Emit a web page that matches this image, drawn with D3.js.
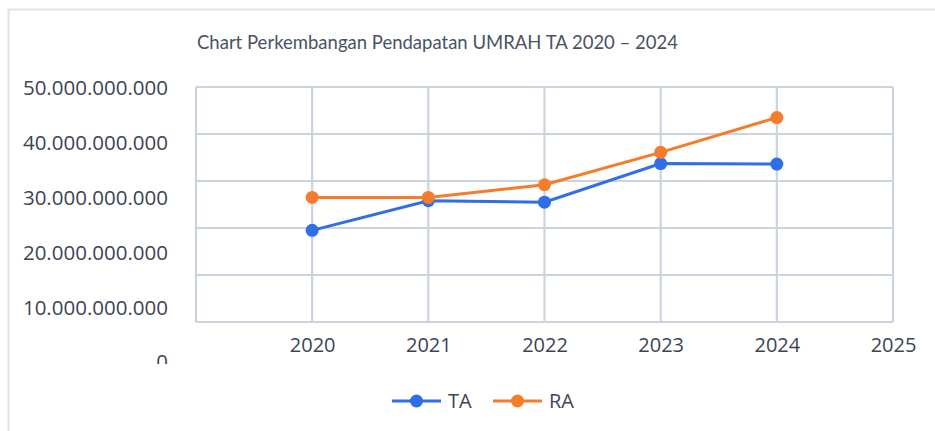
<!DOCTYPE html>
<html><head><meta charset="utf-8">
<script src="https://cdn.jsdelivr.net/npm/d3@7"></script>
<style>body{margin:0;background:#fff}svg{display:block}</style>
</head><body>
<svg id="c" width="935" height="431"></svg>
<script>
const title = "Chart Perkembangan Pendapatan UMRAH TA 2020 \u2013 2024";
const years = [2020, 2021, 2022, 2023, 2024];
const xTicks = [2020, 2021, 2022, 2023, 2024, 2025];
const yTicks = [0, 10e9, 20e9, 30e9, 40e9, 50e9];
const taValues = [19.5e9, 25.8e9, 25.5e9, 33.7e9, 33.6e9];
const raValues = [26.5e9, 26.5e9, 29.2e9, 36.1e9, 43.5e9];
const seriesNames = ["TA", "RA"];
const colors = ["#2f6ee4", "#f47d2c"];

const svg = d3.select("#c");
const txt = "#3d4454", grid = "#cbd3df";

// frame
svg.append("path").attr("d", "M8.5,431V9.5H935").attr("fill", "none").attr("stroke", "#dde3ee").attr("stroke-width", 2);

svg.append("text").attr("x", 197).attr("y", 49).text(title)
  .attr("font-family", "Lato, 'Open Sans', sans-serif").attr("font-size", 19)
  .attr("fill", "#4a5263").attr("textLength", 481).attr("lengthAdjust", "spacingAndGlyphs");

const x = d3.scaleLinear().domain([2019, 2025]).range([196, 893]);
const y = d3.scaleLinear().domain([0, 50e9]).range([322, 87]);
// label positions of the y axis in the reference
const yLab = d3.scaleLinear().domain([0, 50e9]).range([362, 87.5]);

// grid
const g = svg.append("g");
g.selectAll(".h").data(yTicks).join("line")
  .attr("x1", x(2019)).attr("x2", x(2025)).attr("y1", d => y(d)).attr("y2", d => y(d))
  .attr("stroke", grid).attr("stroke-width", 2.2);
g.selectAll(".v").data(d3.range(2019, 2026)).join("line")
  .attr("y1", y(0)).attr("y2", y(50e9)).attr("x1", d => x(d)).attr("x2", d => x(d))
  .attr("stroke", grid).attr("stroke-width", 2.2);

// y axis labels (bottom "0" is cut off in the reference)
svg.append("clipPath").attr("id", "yc").append("rect").attr("x", 0).attr("y", 0).attr("width", 190).attr("height", 364);
const fmt = d => d3.format(",")(d).replace(/,/g, ".");
const yWrap = svg.append("g").attr("clip-path", "url(#yc)");
const ya = yWrap.append("g").attr("transform", "translate(168,0)")
  .call(d3.axisLeft(yLab).tickValues(yTicks).tickFormat(fmt).tickSize(0).tickPadding(0));
ya.select(".domain").remove();
ya.selectAll("text").attr("font-family", "'Open Sans', sans-serif").attr("font-size", 20.5).attr("fill", txt).attr("dy", "0.34em");

// x axis labels
const xa = svg.append("g").attr("transform", "translate(0,345)")
  .call(d3.axisBottom(x).tickValues(xTicks).tickFormat(d3.format("d")).tickSize(0).tickPadding(0));
xa.select(".domain").remove();
xa.selectAll("text").attr("font-family", "'Open Sans', sans-serif").attr("font-size", 20).attr("fill", txt).attr("dy", "0.33em");

// series
const data = [taValues, raValues];
data.forEach((vals, i) => {
  const pts = years.map((yr, j) => [yr, vals[j]]);
  svg.append("path").datum(pts).attr("fill", "none").attr("stroke", colors[i]).attr("stroke-width", 3)
    .attr("d", d3.line().x(d => x(d[0])).y(d => y(d[1])));
  svg.append("g").selectAll("circle").data(pts).join("circle")
    .attr("cx", d => x(d[0])).attr("cy", d => y(d[1])).attr("r", 6.5).attr("fill", colors[i]);
});

// legend
const leg = [{x: 392}, {x: 493}];
seriesNames.forEach((n, i) => {
  const lx = leg[i].x, ly = 401;
  svg.append("line").attr("x1", lx).attr("x2", lx + 49).attr("y1", ly).attr("y2", ly).attr("stroke", colors[i]).attr("stroke-width", 3);
  svg.append("circle").attr("cx", lx + 24.5).attr("cy", ly).attr("r", 6.5).attr("fill", colors[i]);
  svg.append("text").attr("x", lx + 56).attr("y", ly).attr("dy", "0.35em").text(n)
    .attr("font-family", "'Open Sans', sans-serif").attr("font-size", 20).attr("fill", txt);
});
</script>
</body></html>
